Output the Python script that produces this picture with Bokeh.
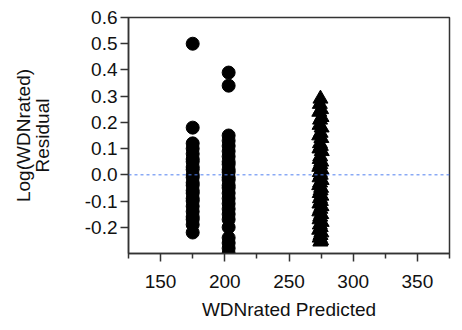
from bokeh.plotting import figure
from bokeh.models import FixedTicker, PrintfTickFormatter, Span, Range1d
from bokeh.embed import file_html
from bokeh.resources import INLINE

# ---- data ----
col1_x = [175] * 23
col1_y = [0.50, 0.18, 0.12, 0.10, 0.08, 0.06, 0.05, 0.03, 0.02, 0.00, -0.01, -0.03,
          -0.04, -0.06, -0.07, -0.09, -0.10, -0.12, -0.14, -0.16, -0.17, -0.19, -0.22]

col2_x = [203] * 26
col2_y = [0.39, 0.34, 0.15, 0.13, 0.11, 0.09, 0.07, 0.05, 0.04, 0.02, 0.01, -0.01,
          -0.02, -0.04, -0.05, -0.07, -0.09, -0.11, -0.13, -0.15, -0.17, -0.20,
          -0.24, -0.26, -0.28, -0.30]

tri_x = [274.5, 274.0, 275.0, 273.6, 275.3, 274.2, 273.8, 275.4, 274.6, 273.5,
         275.2, 274.1, 274.8, 273.7, 275.5, 274.3, 273.9, 275.1, 274.4, 273.6,
         275.3, 274.0, 274.7, 273.8, 275.4, 274.2, 273.5, 275.0, 274.6, 273.9,
         275.2, 274.1, 274.8, 273.7, 275.3, 274.4, 273.6, 275.1, 274.3, 273.8,
         275.4, 274.0, 274.7, 273.5, 275.2, 274.5, 273.9, 275.0, 274.4]
tri_y = [0.29, 0.27, 0.25, 0.24, 0.22, 0.21, 0.19, 0.18, 0.16, 0.15, 0.14, 0.12,
         0.11, 0.10, 0.09, 0.07, 0.06, 0.05, 0.04, 0.03, 0.02, 0.01, 0.00, -0.01,
         -0.02, -0.03, -0.04, -0.05, -0.06, -0.07, -0.08, -0.09, -0.10, -0.11,
         -0.12, -0.13, -0.14, -0.15, -0.16, -0.17, -0.18, -0.19, -0.20, -0.21,
         -0.22, -0.23, -0.24, -0.25, -0.255]

x_ticks = [150, 200, 250, 300, 350]
x_minor = [125, 175, 225, 275, 325, 375]
y_ticks = [-0.2, -0.1, 0.0, 0.1, 0.2, 0.3, 0.4, 0.5, 0.6]

FONT = "Liberation Sans"

p = figure(width=454, height=322, output_backend="svg", toolbar_location=None,
           x_range=Range1d(125, 375), y_range=Range1d(-0.3, 0.6),
           min_border_left=128, min_border_right=5, min_border_top=17,
           min_border_bottom=64)

p.grid.visible = False
p.outline_line_color = "#333333"
p.outline_line_width = 1.5
p.background_fill_color = "white"
p.border_fill_color = "white"

zero = Span(location=0, dimension="width", line_color="#4f7ff0", line_width=1,
            line_dash="3 3")
p.add_layout(zero)

p.scatter(col1_x, col1_y, marker="circle", size=13, color="black")
p.scatter(col2_x, col2_y, marker="circle", size=13, color="black")
p.scatter(tri_x, tri_y, marker="triangle", size=15, color="black")

xa = p.xaxis[0]
xa.ticker = FixedTicker(ticks=x_ticks, minor_ticks=x_minor)
xa.axis_label = "WDNrated Predicted"
ya = p.yaxis[0]
ya.ticker = FixedTicker(ticks=y_ticks)
ya.formatter = PrintfTickFormatter(format="%.1f")
ya.axis_label = "Log(WDNrated)\nResidual"
ya.axis_label_text_line_height = 0.9
ya.minor_tick_line_color = None

for ax in (xa, ya):
    ax.axis_line_color = "#333333"
    ax.axis_line_width = 1.5
    ax.major_tick_line_color = "#333333"
    ax.major_tick_line_width = 1.5
    ax.minor_tick_line_width = 1.5
    ax.major_tick_in = 0
    ax.major_tick_out = 8
    ax.minor_tick_in = 0
    ax.minor_tick_out = 5
    ax.major_label_text_font = FONT
    ax.major_label_text_font_size = "19px"
    ax.major_label_text_color = "#111111"
    ax.axis_label_text_font = FONT
    ax.axis_label_text_font_size = "19px"
    ax.axis_label_text_font_style = "normal"
    ax.axis_label_text_color = "#111111"

xa.minor_tick_line_color = "#333333"
xa.major_label_standoff = 13
xa.axis_label_standoff = 8
ya.major_label_standoff = 3
ya.axis_label_standoff = 29

open("out.html", "w").write(file_html(p, INLINE))
